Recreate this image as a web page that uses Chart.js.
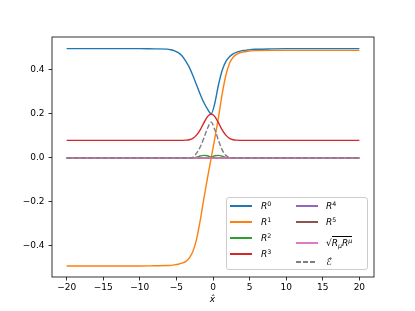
<!DOCTYPE html>
<html>
<head>
<meta charset="utf-8">
<script src="https://cdn.jsdelivr.net/npm/chart.js@4"></script>
<style>
  body { margin: 0; background: #fff; }
  #wrap { position: relative; width: 415px; height: 311px; font-family: "DejaVu Sans", sans-serif; }
  #legend {
    position: absolute; left: 226px; top: 197px; width: 140px; height: 71px;
    border: 1px solid #cccccc; border-radius: 3px; background: rgba(255,255,255,0.8);
  }
  .handle { position: absolute; width: 22px; height: 1.4px; }
  .lab { position: absolute; height: 14px; line-height: 14px; font-size: 9px; color: #000; white-space: nowrap; }
  .lab i { font-style: italic; }
  .lab sup { font-size: 6.3px; vertical-align: 3.5px; line-height: 0; }
  .lab sub { font-size: 6.3px; vertical-align: -2px; line-height: 0; }
  .rad { display: inline-block; border-top: 0.9px solid #000; line-height: 10px; padding-top: 1px; }
  #xtitle { position: absolute; left: 200px; width: 25px; top: 294px; text-align: center; font-size: 9px; font-style: italic; }
</style>
</head>
<body>
<div id="wrap">
  <canvas id="chart"></canvas>
  <div id="legend"></div>
  <div id="xtitle">x̂</div>
</div>
<script>
// x positions (shared by all series)
const xs = [-20, -15, -10, -8,
  -6.25, -5.75, -5.25, -4.75, -4.25, -3.75, -3.25, -2.75, -2.25, -1.75, -1.25, -0.75, -0.25,
  0.25, 0.75, 1.25, 1.75, 2.25, 2.75, 3.25, 3.75, 4.25, 4.75, 5.25, 5.75,
  8, 10, 15, 20];

const r0 = [0.497, 0.497, 0.497, 0.496,
  0.495, 0.492, 0.487, 0.479, 0.465, 0.442, 0.413, 0.375, 0.332, 0.29, 0.252, 0.222, 0.201,
  0.25, 0.333, 0.398, 0.438, 0.46, 0.473, 0.481, 0.486, 0.489, 0.491, 0.493, 0.494,
  0.496, 0.497, 0.497, 0.497];
const r1 = [-0.491, -0.491, -0.491, -0.49,
  -0.489, -0.488, -0.486, -0.483, -0.478, -0.471, -0.455, -0.425, -0.37, -0.285, -0.185, -0.09, 0,
  0.09, 0.185, 0.29, 0.375, 0.43, 0.458, 0.472, 0.479, 0.483, 0.485, 0.487, 0.488,
  0.489, 0.489, 0.489, 0.489];
const r2 = [0, 0, 0, 0,
  0, 0, 0, 0, 0, 0, 0, 0.001, 0.004, 0.009, 0.012, 0.01, 0.004,
  0.01, 0.012, 0.008, 0.003, 0.001, 0, 0, 0, 0, 0, 0, 0,
  0, 0, 0, 0];
const r3 = [0.08, 0.08, 0.08, 0.08,
  0.08, 0.08, 0.08, 0.08, 0.08, 0.081, 0.083, 0.0895, 0.104, 0.128, 0.16, 0.188, 0.2,
  0.188, 0.16, 0.128, 0.104, 0.0895, 0.083, 0.081, 0.08, 0.08, 0.08, 0.08, 0.08,
  0.08, 0.08, 0.08, 0.08];
const r4 = [0, 0, 0, 0,
  0, 0, 0, 0, 0, 0, 0, 0, 0, 0, 0, 0, 0,
  0, 0, 0, 0, 0, 0, 0, 0, 0, 0, 0, 0,
  0, 0, 0, 0];
const r5 = [0, 0, 0, 0,
  0, 0, 0, 0, 0, 0, 0, 0, 0, 0, 0, 0, 0,
  0, 0, 0, 0, 0, 0, 0, 0, 0, 0, 0, 0,
  0, 0, 0, 0];
const rNorm = [0, 0, 0, 0,
  0, 0, 0, 0, 0, 0, 0, 0, 0, 0, 0, 0, 0,
  0, 0, 0, 0, 0, 0, 0, 0, 0, 0, 0, 0,
  0, 0, 0, 0];
const eHat = [0, 0, 0, 0,
  0, 0, 0, 0, 0, 0, 0, 0.003, 0.022, 0.05, 0.09, 0.135, 0.163,
  0.128, 0.08, 0.037, 0.012, 0.002, 0, 0, 0, 0, 0, 0, 0,
  0, 0, 0, 0];

const xTicks = [-20, -15, -10, -5, 0, 5, 10, 15, 20];
const yTicks = [-0.4, -0.2, 0, 0.2, 0.4];

const series = [
  { name: "R0", html: "<i>R</i><sup>0</sup>", data: r0, color: "#1f77b4" },
  { name: "R1", html: "<i>R</i><sup>1</sup>", data: r1, color: "#ff7f0e" },
  { name: "R2", html: "<i>R</i><sup>2</sup>", data: r2, color: "#2ca02c" },
  { name: "R3", html: "<i>R</i><sup>3</sup>", data: r3, color: "#d62728" },
  { name: "R4", html: "<i>R</i><sup>4</sup>", data: r4, color: "#9467bd" },
  { name: "R5", html: "<i>R</i><sup>5</sup>", data: r5, color: "#8c564b" },
  { name: "sqrt", html: "√<span class=\"rad\"><i>R</i><sub><i>μ</i></sub><i>R</i><sup><i>μ</i></sup></span>", data: rNorm, color: "#e377c2" },
  { name: "E", html: "<i>ℰ̂</i>", data: eHat, color: "#7f7f7f", dash: [5, 2.2] },
];

const minus = s => s.replace("-", "\u2212");

// frame around the plot area
const frame = {
  id: "frame",
  afterDraw(chart) {
    const a = chart.chartArea, ctx = chart.ctx;
    ctx.save();
    ctx.strokeStyle = "#000";
    ctx.lineWidth = 0.8;
    ctx.strokeRect(a.left, a.top, a.right - a.left, a.bottom - a.top);
    ctx.restore();
  }
};

Chart.defaults.font.family = "DejaVu Sans";
Chart.defaults.font.size = 9;
Chart.defaults.color = "#000";

new Chart(document.getElementById("chart"), {
  type: "line",
  data: {
    datasets: series.map((s, i) => ({
      label: s.name,
      data: xs.map((x, j) => ({ x: x, y: s.data[j] })),
      borderColor: s.color,
      borderWidth: 1.4,
      borderDash: s.dash || [],
      pointRadius: 0,
      fill: false,
      cubicInterpolationMode: "monotone",
      order: series.length - i,
    })),
  },
  options: {
    responsive: true,
    maintainAspectRatio: false,
    animation: false,
    layout: { padding: { left: 0, right: 41, top: 37, bottom: 0 } },
    plugins: { legend: { display: false }, tooltip: { enabled: false } },
    scales: {
      x: {
        type: "linear",
        min: -22,
        max: 22,
        afterBuildTicks: sc => { sc.ticks = xTicks.map(v => ({ value: v })); },
        afterFit: sc => { sc.height = 34; },
        ticks: { autoSkip: false, maxRotation: 0, padding: 2, callback: v => minus(String(v)) },
        grid: { drawOnChartArea: false, tickLength: 3.5, tickColor: "#000", tickWidth: 0.8 },
        border: { display: false },
      },
      y: {
        type: "linear",
        min: -0.541,
        max: 0.55,
        afterBuildTicks: sc => { sc.ticks = yTicks.map(v => ({ value: v })); },
        afterFit: sc => { sc.width = 52; },
        ticks: { autoSkip: false, padding: 4, callback: v => minus(v.toFixed(1)) },
        grid: { drawOnChartArea: false, tickLength: 3.5, tickColor: "#000", tickWidth: 0.8 },
        border: { display: false },
      },
    },
  },
  plugins: [frame],
});

// two-column legend, like the matplotlib one
const legend = document.getElementById("legend");
const rows = [
  { col: 0, y: 8 }, { col: 0, y: 24 }, { col: 0, y: 40 }, { col: 0, y: 56 },
  { col: 1, y: 8 }, { col: 1, y: 24 }, { col: 1, y: 45 }, { col: 1, y: 64 },
];
series.forEach((s, i) => {
  const r = rows[i];
  const hx = r.col === 0 ? 3 : 69;
  const tx = r.col === 0 ? 34 : 99;
  const h = document.createElement("div");
  h.className = "handle";
  h.style.left = hx + "px";
  h.style.top = (r.y - 0.7) + "px";
  if (s.dash) {
    h.style.background = "repeating-linear-gradient(to right, " + s.color + " 0 5px, transparent 5px 7.2px)";
  } else {
    h.style.background = s.color;
  }
  legend.appendChild(h);
  const t = document.createElement("div");
  t.className = "lab";
  t.style.left = tx + "px";
  t.style.top = (r.y - 7) + "px";
  t.innerHTML = s.html;
  legend.appendChild(t);
});
</script>
</body>
</html>
